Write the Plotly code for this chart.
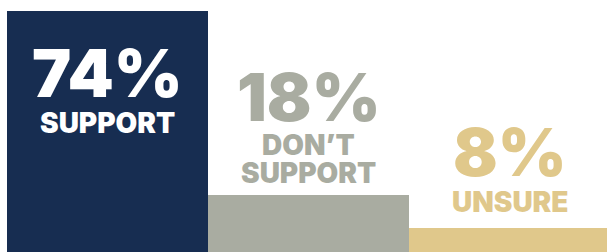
import plotly.graph_objects as go

categories = ["Support", "Don't support", "Unsure"]
values = [74, 18, 8]
pct_labels = ["74%", "18%", "8%"]
word_labels = [["SUPPORT"], ["DON\u2019T", "SUPPORT"], ["UNSURE"]]
bar_colors = ["#172d51", "#a9aca1", "#e0c88b"]
text_colors = ["#ffffff", "#a9aca1", "#e0c88b"]

FONT = "Inter"
BIG = 66
SMALL = 28
fig = go.Figure(go.Bar(x=categories, y=values, marker=dict(color=bar_colors, line=dict(width=0)),
                       width=1, hoverinfo="skip"))

anns = []
# bar 1: text inside near top
anns.append(dict(x=categories[0], y=values[0], text=pct_labels[0], yanchor="middle", yshift=-62,
                 font=dict(family=FONT, size=BIG, color=text_colors[0], weight=900)))
anns.append(dict(x=categories[0], y=values[0], text=word_labels[0][0], yanchor="middle", yshift=-112,
                 font=dict(family=FONT, size=SMALL, color=text_colors[0], weight=900)))
# bar 2: text above
anns.append(dict(x=categories[1], y=values[1], text=pct_labels[1], yanchor="middle", yshift=98,
                 font=dict(family=FONT, size=BIG, color=text_colors[1], weight=900)))
anns.append(dict(x=categories[1], y=values[1], text=word_labels[1][0], yanchor="middle", yshift=50,
                 font=dict(family=FONT, size=SMALL, color=text_colors[1], weight=900)))
anns.append(dict(x=categories[1], y=values[1], text=word_labels[1][1], yanchor="middle", yshift=22,
                 font=dict(family=FONT, size=SMALL, color=text_colors[1], weight=900)))
# bar 3
anns.append(dict(x=categories[2], y=values[2], text=pct_labels[2], yanchor="middle", yshift=76,
                 font=dict(family=FONT, size=BIG, color=text_colors[2], weight=900)))
anns.append(dict(x=categories[2], y=values[2], text=word_labels[2][0], yanchor="middle", yshift=26,
                 font=dict(family=FONT, size=SMALL, color=text_colors[2], weight=900)))
for a in anns:
    a.update(showarrow=False, xanchor="center")

fig.update_layout(
    width=607, height=252,
    margin=dict(l=7, r=0, t=0, b=0),
    paper_bgcolor="white", plot_bgcolor="white",
    bargap=0, showlegend=False,
    annotations=anns,
    xaxis=dict(visible=False, range=[-0.5, 2.485]),
    yaxis=dict(visible=False, range=[0.61, 77.44]),
)
fig.write_html("out.html", config={"displayModeBar": False, "staticPlot": True},
               post_script="document.body.style.margin='0';document.body.style.overflow='hidden';")
